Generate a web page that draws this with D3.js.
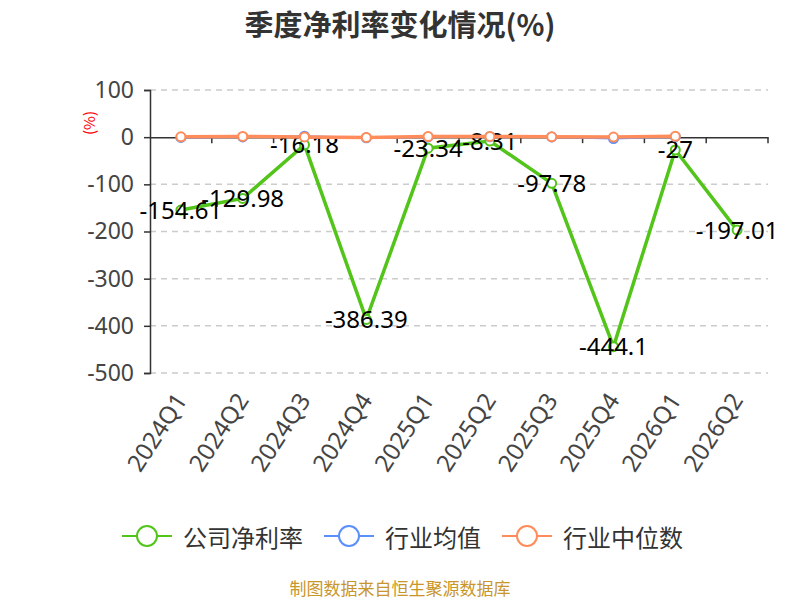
<!DOCTYPE html>
<html>
<head>
<meta charset="utf-8">
<script src="https://cdn.jsdelivr.net/npm/d3@7"></script>
<style>
  body { margin: 0; background: #fff; }
  svg { font-family: "Noto Sans CJK SC", "Noto Sans", sans-serif; }
</style>
</head>
<body>
<svg id="chart" width="800" height="600"></svg>
<script>
// quarters on the x axis
const quarters = ["2024Q1", "2024Q2", "2024Q3", "2024Q4", "2025Q1", "2025Q2", "2025Q3", "2025Q4", "2026Q1", "2026Q2"];
// company net margin (%)
const companyRate = [-154.61, -129.98, -16.18, -386.39, -23.34, -8.31, -97.78, -444.1, -27, -197.01];
// industry average / median (%), no value for the last quarter
const industryAvg = [-0.5, 0.5, 2, -1.5, 0.5, 1, 0.5, -3, 1];
const industryMedian = [0.8, 1.5, 0.5, -0.5, 1.2, 1.5, 0.8, 0.3, 1.8];
const yTicks = [100, 0, -100, -200, -300, -400, -500];
const seriesNames = ["公司净利率", "行业均值", "行业中位数"];
const seriesColors = ["#52c41a", "#5b8ff9", "#ff8c5a"];

const svg = d3.select("#chart");

const x = d3.scaleBand().domain(quarters).range([150, 768]);
const y = d3.scaleLinear().domain([-500, 100]).range([373, 90]);
const cx = d => x(d) + x.bandwidth() / 2;

// title
svg.append("text")
    .attr("x", 400).attr("y", 23)
    .attr("text-anchor", "middle")
    .attr("dominant-baseline", "central")
    .attr("font-size", 29).attr("font-weight", "bold")
    .attr("fill", "#333")
    .text("季度净利率变化情况(%)");

// dashed grid lines
svg.append("g")
    .selectAll("line")
    .data(yTicks.filter(t => t !== 0))
    .enter()
    .append("line")
    .attr("x1", 150).attr("x2", 768)
    .attr("y1", d => y(d)).attr("y2", d => y(d))
    .attr("stroke", "#ccc")
    .attr("stroke-width", 1.5)
    .attr("stroke-dasharray", "6,5");

// y axis
const yAxis = svg.append("g")
    .attr("transform", "translate(150,0)")
    .call(d3.axisLeft(y).tickValues(yTicks).tickFormat(d => String(d)).tickSize(6).tickPadding(10));
yAxis.select(".domain").attr("stroke", "#333").attr("stroke-width", 1.5);
yAxis.selectAll(".tick line").attr("stroke", "#333").attr("stroke-width", 1.5);
yAxis.selectAll(".tick text")
    .attr("font-size", 23).attr("fill", "#444")
    .attr("font-family", "'Noto Sans', sans-serif");

// x axis at zero
const xAxis = svg.append("g")
    .attr("transform", `translate(0,${y(0)})`)
    .call(d3.axisBottom(x).tickSize(0).tickFormat(""));
xAxis.select(".domain").attr("stroke", "#333").attr("stroke-width", 1.5);
svg.append("g")
    .selectAll("line")
    .data(quarters.slice(1).concat(["end"]))
    .enter()
    .append("line")
    .attr("x1", d => d === "end" ? 768 : x(d))
    .attr("x2", d => d === "end" ? 768 : x(d))
    .attr("y1", y(0)).attr("y2", y(0) + 6)
    .attr("stroke", "#333").attr("stroke-width", 1.5);

// rotated category labels below the plot
svg.append("g")
    .selectAll("text")
    .data(quarters)
    .enter()
    .append("text")
    .attr("transform", d => `translate(${cx(d) - 1},${y(-500) + 22}) rotate(-57)`)
    .attr("text-anchor", "end")
    .attr("dominant-baseline", "central")
    .attr("font-size", 24)
    .attr("fill", "#444")
    .attr("font-family", "'Noto Sans', sans-serif")
    .text(d => d);

// unit label
svg.append("text")
    .attr("transform", `translate(88,${y(30)}) rotate(-90)`)
    .attr("text-anchor", "middle")
    .attr("dominant-baseline", "central")
    .attr("font-size", 15).attr("fill", "red")
    .text("(%)");

function drawLine(values, color, width) {
    const pts = values.map((v, i) => [cx(quarters[i]), y(v)]);
    svg.append("path")
        .attr("d", d3.line()(pts))
        .attr("fill", "none")
        .attr("stroke", color)
        .attr("stroke-width", width);
    svg.append("g")
        .selectAll("circle")
        .data(pts)
        .enter()
        .append("circle")
        .attr("cx", d => d[0]).attr("cy", d => d[1])
        .attr("r", 4.5)
        .attr("fill", "#fff")
        .attr("stroke", color)
        .attr("stroke-width", 2);
}

// company series with value labels
drawLine(companyRate, seriesColors[0], 3.5);
svg.append("g")
    .selectAll("text")
    .data(companyRate)
    .enter()
    .append("text")
    .attr("x", (d, i) => cx(quarters[i]))
    .attr("y", d => y(d) - 1)
    .attr("text-anchor", "middle")
    .attr("dominant-baseline", "central")
    .attr("font-size", 24)
    .attr("fill", "#000")
    .attr("font-family", "'Noto Sans', sans-serif")
    .text(d => d);

drawLine(industryAvg, seriesColors[1], 2);
drawLine(industryMedian, seriesColors[2], 3.5);

// legend, items placed one after another
const legend = svg.append("g").attr("transform", "translate(122,536)");
let lx = 0;
seriesNames.forEach((name, i) => {
    const item = legend.append("g").attr("transform", `translate(${lx},0)`);
    item.append("line")
        .attr("x1", 0).attr("x2", 50)
        .attr("stroke", seriesColors[i])
        .attr("stroke-width", 2);
    item.append("circle")
        .attr("cx", 25).attr("r", 10)
        .attr("fill", "#fff")
        .attr("stroke", seriesColors[i])
        .attr("stroke-width", 2);
    const t = item.append("text")
        .attr("x", 61)
        .attr("dominant-baseline", "central")
        .attr("font-size", 24)
        .attr("fill", "#333")
        .text(name);
    lx += 61 + t.node().getComputedTextLength() + 21;
});

// source note
svg.append("text")
    .attr("x", 400).attr("y", 587)
    .attr("text-anchor", "middle")
    .attr("dominant-baseline", "central")
    .attr("font-size", 17)
    .attr("fill", "#c8962a")
    .text("制图数据来自恒生聚源数据库");
</script>
</body>
</html>
